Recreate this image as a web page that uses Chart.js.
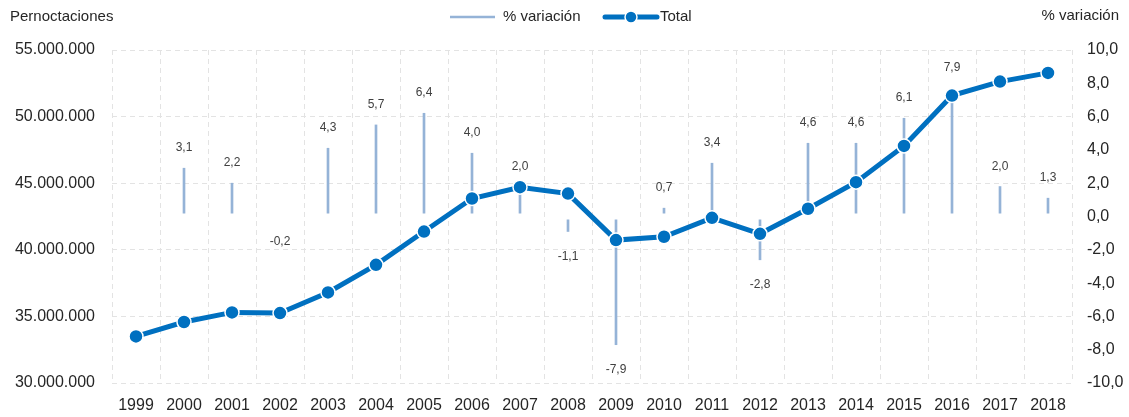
<!DOCTYPE html>
<html>
<head>
<meta charset="utf-8">
<script src="https://cdn.jsdelivr.net/npm/chart.js@4/dist/chart.umd.min.js"></script>
<style>
  html, body { margin: 0; padding: 0; background: #fff; }
  #wrap { width: 1129px; height: 417px; position: relative; }
</style>
</head>
<body>
<div id="wrap"><canvas id="chart"></canvas></div>
<script>
var years = ["1999", "2000", "2001", "2002", "2003", "2004", "2005", "2006", "2007", "2008",
             "2009", "2010", "2011", "2012", "2013", "2014", "2015", "2016", "2017", "2018"];

// Pernoctaciones (total)
var totals = [33500000, 34580000, 35300000, 35250000, 36800000, 38870000, 41370000, 43850000, 44700000, 44220000,
              40730000, 40980000, 42400000, 41200000, 43080000, 45080000, 47800000, 51580000, 52630000, 53280000];

// % variación
var variation = [null, 3.1, 2.2, -0.2, 4.3, 5.7, 6.4, 4.0, 2.0, -1.1,
                 -7.9, 0.7, 3.4, -2.8, 4.6, 4.6, 6.1, 7.9, 2.0, 1.3];

var LINE_BLUE = "#0070C0";
var BAR_BLUE = "#95B3D7";
var TEXT = "#262626";
var FONT = "'Liberation Sans', Arial, sans-serif";

function fmtThousands(v) {
    return String(Math.round(v)).replace(/\B(?=(\d{3})+(?!\d))/g, ".");
}

function fmtPct(v) {
    return v.toFixed(1).replace(".", ",");
}

// thin bars, Excel leaves a small gap at both ends
function barSpan(v) {
    if (v === null) return null;
    var gap = v > 0 ? 0.2 : -0.2;
    if (Math.abs(v) < 0.5) return null;
    return [gap, v - gap];
}

var decorPlugin = {
    id: "decor",
    afterDatasetsDraw: function (chart) {
        var ctx = chart.ctx;
        var y1 = chart.scales.y1;
        var x = chart.scales.x;
        ctx.save();
        ctx.font = "12px " + FONT;
        ctx.fillStyle = "#404040";
        ctx.textAlign = "center";
        ctx.textBaseline = "middle";
        for (var i = 0; i < variation.length; i++) {
            var v = variation[i];
            if (v === null) continue;
            var px = x.getPixelForValue(i);
            var py = y1.getPixelForValue(v);
            if (v >= 0) {
                ctx.fillText(fmtPct(v), px, py - 17);
            } else {
                ctx.fillText(fmtPct(v), px, py + 22);
            }
        }
        ctx.restore();
    },
    afterDraw: function (chart) {
        var ctx = chart.ctx;
        ctx.save();
        ctx.fillStyle = TEXT;
        ctx.textBaseline = "middle";

        // axis titles
        ctx.font = "15px " + FONT;
        ctx.textAlign = "left";
        ctx.fillText("Pernoctaciones", 10, 17);
        ctx.textAlign = "right";
        ctx.fillText("% variación", 1119, 16);

        // legend
        ctx.lineCap = "butt";
        ctx.strokeStyle = BAR_BLUE;
        ctx.lineWidth = 2.5;
        ctx.beginPath();
        ctx.moveTo(450, 17);
        ctx.lineTo(495, 17);
        ctx.stroke();
        ctx.font = "15px " + FONT;
        ctx.textAlign = "left";
        ctx.fillText("% variación", 503, 17);

        ctx.strokeStyle = LINE_BLUE;
        ctx.lineWidth = 5;
        ctx.lineCap = "round";
        ctx.beginPath();
        ctx.moveTo(605, 17);
        ctx.lineTo(657, 17);
        ctx.stroke();
        ctx.beginPath();
        ctx.arc(631, 17, 6, 0, Math.PI * 2);
        ctx.fillStyle = LINE_BLUE;
        ctx.fill();
        ctx.lineWidth = 1.5;
        ctx.strokeStyle = "#fff";
        ctx.stroke();
        ctx.fillStyle = TEXT;
        ctx.fillText("Total", 660, 17);
        ctx.restore();
    }
};

var gridOpts = { color: "#E3E3E3", lineWidth: 1, drawTicks: false };
var borderOpts = { display: false, dash: [5, 4] };

var chart = new Chart(document.getElementById("chart"), {
    data: {
        labels: years,
        datasets: [{
            type: "line",
            label: "Total",
            data: totals,
            yAxisID: "y",
            borderColor: LINE_BLUE,
            borderWidth: 5,
            tension: 0,
            pointRadius: 7,
            pointBackgroundColor: LINE_BLUE,
            pointBorderColor: "#ffffff",
            pointBorderWidth: 1.5,
            order: 0
        }, {
            type: "bar",
            label: "% variación",
            data: variation.map(barSpan),
            yAxisID: "y1",
            backgroundColor: BAR_BLUE,
            barThickness: 2,
            order: 1
        }]
    },
    options: {
        responsive: true,
        maintainAspectRatio: false,
        animation: false,
        layout: { padding: { top: 50, left: 0, right: 0, bottom: 0 } },
        plugins: {
            legend: { display: false },
            tooltip: { enabled: false }
        },
        scales: {
            x: {
                offset: true,
                grid: { color: "#E3E3E3", lineWidth: 1, drawTicks: false, offset: true },
                border: borderOpts,
                ticks: { color: TEXT, font: { size: 16, family: FONT }, padding: 13, maxRotation: 0, autoSkip: false },
                afterFit: function (s) { s.height = 34; }
            },
            y: {
                position: "left",
                min: 30000000,
                max: 55000000,
                grid: gridOpts,
                border: borderOpts,
                ticks: {
                    stepSize: 5000000,
                    color: TEXT,
                    font: { size: 16, family: FONT },
                    padding: 17,
                    callback: function (v) { return fmtThousands(v); }
                },
                afterFit: function (s) { s.width = 112; }
            },
            y1: {
                position: "right",
                min: -10,
                max: 10,
                grid: { display: false, drawTicks: false },
                border: { display: false },
                ticks: {
                    stepSize: 2,
                    color: TEXT,
                    font: { size: 16, family: FONT },
                    padding: 15,
                    callback: function (v) { return fmtPct(v); }
                },
                afterFit: function (s) { s.width = 57; }
            }
        }
    },
    plugins: [decorPlugin]
});
</script>
</body>
</html>
